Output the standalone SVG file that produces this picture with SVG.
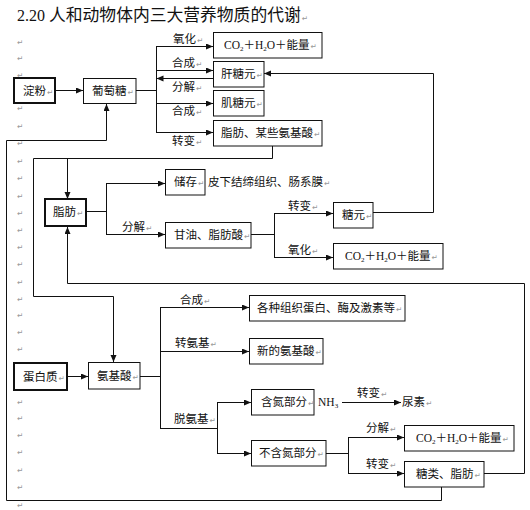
<svg xmlns="http://www.w3.org/2000/svg" width="530" height="510" viewBox="0 0 530 510">
<style>
text{font-family:"Noto Sans CJK SC","Noto Sans",sans-serif;font-size:11.5px;fill:#111}
.t{font-size:16.8px}
.d{font-family:"Liberation Serif",serif;font-size:16px}
.s{font-family:"Liberation Serif",serif}
.sub{font-family:"Liberation Serif",serif;font-size:7px}
.m{font-family:"DejaVu Sans",sans-serif;font-size:7.5px;fill:#999}
.b{fill:#fff;stroke:#111;stroke-width:1}
.k{fill:#fff;stroke:#111;stroke-width:2}
.c{fill:none;stroke:#111;stroke-width:1}
.ar{marker-end:url(#a)}
</style>
<defs>
<marker id="a" markerWidth="8" markerHeight="7" refX="7" refY="3" orient="auto" markerUnits="userSpaceOnUse"><path d="M0,0 L7,3 L0,6 z" fill="#111"/></marker>
</defs>
<rect width="530" height="510" fill="#fff"/>
<text x="17" y="21"><tspan class="d">2.20 </tspan><tspan class="t">人和动物体内三大营养物质的代谢</tspan><tspan class="m" dx="1">↵</tspan></text>
<g id="margin-marks">
<text class="m" x="17" y="45">↵</text><text class="m" x="17" y="61">↵</text><text class="m" x="17" y="78">↵</text>
<text class="m" x="17" y="111">↵</text><text class="m" x="17" y="129">↵</text><text class="m" x="17" y="146">↵</text>
<text class="m" x="17" y="164">↵</text><text class="m" x="17" y="181">↵</text><text class="m" x="17" y="199">↵</text>
<text class="m" x="17" y="216">↵</text><text class="m" x="17" y="233">↵</text><text class="m" x="17" y="250">↵</text>
<text class="m" x="17" y="267">↵</text><text class="m" x="17" y="285">↵</text><text class="m" x="17" y="302">↵</text>
<text class="m" x="17" y="318">↵</text><text class="m" x="17" y="335">↵</text><text class="m" x="17" y="352">↵</text>
<text class="m" x="17" y="405">↵</text><text class="m" x="17" y="421">↵</text><text class="m" x="17" y="438">↵</text>
<text class="m" x="17" y="455">↵</text><text class="m" x="17" y="473">↵</text><text class="m" x="17" y="490">↵</text>
<text class="m" x="17" y="508">↵</text>
</g>
<g id="connectors">
<line class="c ar" x1="55" y1="90.5" x2="83" y2="90.5"/>
<line class="c" x1="136" y1="90.5" x2="156.5" y2="90.5"/>
<line class="c" x1="156.5" y1="46" x2="156.5" y2="133"/>
<polyline class="c ar" points="156.5,46.5 213,46.5"/>
<polyline class="c ar" points="156.5,70.5 213,70.5"/>
<polyline class="c ar" points="213,78.5 156.5,78.5"/>
<polyline class="c ar" points="156.5,103.5 213,103.5"/>
<polyline class="c ar" points="156.5,132.5 213,132.5"/>
<polyline class="c ar" points="373,212.5 433.5,212.5 433.5,73.5 264,73.5"/>
<polyline class="c ar" points="272.5,146 272.5,158.5 33.5,158.5 33.5,296.5 113.5,296.5 113.5,362"/>
<polyline class="c ar" points="67.5,158.5 67.5,199"/>
<polyline class="c ar" points="441.5,487 441.5,500.5 6.5,500.5 6.5,140.5 106.5,140.5 106.5,104"/>
<polyline class="c ar" points="484,473.5 524.5,473.5 524.5,283.5 67.5,283.5 67.5,227"/>
<line class="c" x1="86" y1="211.5" x2="106.5" y2="211.5"/>
<line class="c" x1="106.5" y1="183" x2="106.5" y2="235"/>
<polyline class="c ar" points="106.5,183.5 165,183.5"/>
<polyline class="c ar" points="106.5,234.5 165,234.5"/>
<line class="c" x1="251" y1="234.5" x2="274.5" y2="234.5"/>
<line class="c" x1="274.5" y1="213" x2="274.5" y2="258"/>
<polyline class="c ar" points="274.5,213.5 333,213.5"/>
<polyline class="c ar" points="274.5,257.5 333,257.5"/>
<line class="c ar" x1="67" y1="376.5" x2="88" y2="376.5"/>
<line class="c" x1="140" y1="376.5" x2="160.5" y2="376.5"/>
<line class="c" x1="160.5" y1="307" x2="160.5" y2="429"/>
<polyline class="c ar" points="160.5,307.5 249,307.5"/>
<polyline class="c ar" points="160.5,351.5 249,351.5"/>
<line class="c" x1="160.5" y1="428.5" x2="217.5" y2="428.5"/>
<line class="c" x1="217.5" y1="402" x2="217.5" y2="454"/>
<polyline class="c ar" points="217.5,402.5 251,402.5"/>
<polyline class="c ar" points="217.5,453.5 251,453.5"/>
<line class="c ar" x1="342" y1="402.5" x2="401" y2="402.5"/>
<line class="c" x1="326" y1="453.5" x2="348.5" y2="453.5"/>
<line class="c" x1="348.5" y1="437" x2="348.5" y2="474"/>
<polyline class="c ar" points="348.5,437.5 404,437.5"/>
<polyline class="c ar" points="348.5,473.5 404,473.5"/>
<text x="173" y="43">氧化<tspan class="m" dx="1">↵</tspan></text>
<text x="172" y="67">合成<tspan class="m" dx="1">↵</tspan></text>
<text x="172" y="91">分解<tspan class="m" dx="1">↵</tspan></text>
<text x="172" y="115">合成<tspan class="m" dx="1">↵</tspan></text>
<text x="172" y="145">转变<tspan class="m" dx="1">↵</tspan></text>
<text x="122" y="231">分解<tspan class="m" dx="1">↵</tspan></text>
<text x="288" y="210">转变<tspan class="m" dx="1">↵</tspan></text>
<text x="288" y="254">氧化<tspan class="m" dx="1">↵</tspan></text>
<text x="180" y="304">合成<tspan class="m" dx="1">↵</tspan></text>
<text x="175" y="347">转氨基<tspan class="m" dx="1">↵</tspan></text>
<text x="174" y="423">脱氨基<tspan class="m" dx="1">↵</tspan></text>
<text x="357" y="397">转变<tspan class="m" dx="1">↵</tspan></text>
<text x="366" y="432">分解<tspan class="m" dx="1">↵</tspan></text>
<text x="366" y="468">转变<tspan class="m" dx="1">↵</tspan></text>
</g>
<g id="n-dianfen"><rect class="k" x="14" y="78" width="41" height="25"/><text x="23" y="95">淀粉<tspan class="m" dx="1">↵</tspan></text></g>
<g id="n-putaotang"><rect class="b" x="83.5" y="78.5" width="52.5" height="25"/><text x="92" y="95">葡萄糖<tspan class="m" dx="1">↵</tspan></text></g>
<g id="n-co2-1"><rect class="b" x="213.5" y="32.5" width="108.5" height="25.5"/><text x="224" y="49"><tspan class="s">CO</tspan><tspan class="sub" dy="2">2</tspan><tspan dy="-2">＋</tspan><tspan class="s">H</tspan><tspan class="sub" dy="2">2</tspan><tspan class="s" dy="-2">O</tspan>＋能量<tspan class="m" dx="1">↵</tspan></text></g>
<g id="n-gantangyuan"><rect class="b" x="213.5" y="61.5" width="50.5" height="25.5"/><text x="221" y="78">肝糖元<tspan class="m" dx="1">↵</tspan></text></g>
<g id="n-jitangyuan"><rect class="b" x="213.5" y="90.5" width="50.5" height="25.5"/><text x="221" y="107">肌糖元<tspan class="m" dx="1">↵</tspan></text></g>
<g id="n-zhifang-aa"><rect class="b" x="213.5" y="120.5" width="108.5" height="25.5"/><text x="221" y="137">脂肪、某些氨基酸<tspan class="m" dx="1">↵</tspan></text></g>
<g id="n-zhifang"><rect class="k" x="45" y="199" width="41" height="27"/><text x="53" y="216">脂肪<tspan class="m" dx="1">↵</tspan></text></g>
<g id="n-chucun"><rect class="b" x="165.5" y="169.5" width="39.5" height="25.5"/><text x="174" y="186">储存<tspan class="m" dx="1">↵</tspan></text></g>
<g id="t-pixia"><text x="208" y="186">皮下结缔组织、肠系膜<tspan class="m" dx="1">↵</tspan></text></g>
<g id="n-ganyou"><rect class="b" x="165.5" y="222.5" width="85.5" height="25.5"/><text x="174" y="239">甘油、脂肪酸<tspan class="m" dx="1">↵</tspan></text></g>
<g id="n-tangyuan"><rect class="b" x="333.5" y="202.5" width="39.5" height="25.5"/><text x="342" y="219">糖元<tspan class="m" dx="1">↵</tspan></text></g>
<g id="n-co2-2"><rect class="b" x="333.5" y="243.5" width="109.5" height="25.5"/><text x="345" y="260"><tspan class="s">CO</tspan><tspan class="sub" dy="2">2</tspan><tspan dy="-2">＋</tspan><tspan class="s">H</tspan><tspan class="sub" dy="2">2</tspan><tspan class="s" dy="-2">O</tspan>＋能量<tspan class="m" dx="1">↵</tspan></text></g>
<g id="n-danbaizhi"><rect class="k" x="14" y="363" width="53" height="27"/><text x="23" y="381">蛋白质<tspan class="m" dx="1">↵</tspan></text></g>
<g id="n-anjisuan"><rect class="b" x="88.5" y="362.5" width="51.5" height="26.5"/><text x="97" y="380">氨基酸<tspan class="m" dx="1">↵</tspan></text></g>
<g id="n-gezhong"><rect class="b" x="249.5" y="295.5" width="155.5" height="25.5"/><text x="257" y="312">各种组织蛋白、酶及激素等<tspan class="m" dx="1">↵</tspan></text></g>
<g id="n-xinde"><rect class="b" x="249.5" y="338.5" width="73.5" height="25.5"/><text x="257" y="355">新的氨基酸<tspan class="m" dx="1">↵</tspan></text></g>
<g id="n-handan"><rect class="b" x="251.5" y="389.5" width="62.5" height="25.5"/><text x="261" y="406">含氮部分<tspan class="m" dx="1">↵</tspan></text></g>
<g id="t-nh3"><text x="318" y="406"><tspan class="s">NH</tspan><tspan class="sub" dy="2">3</tspan></text></g>
<g id="t-niaosu"><text x="402" y="406">尿素<tspan class="m" dx="1">↵</tspan></text></g>
<g id="n-buhandan"><rect class="b" x="251.5" y="440.5" width="74.5" height="25.5"/><text x="259" y="457">不含氮部分<tspan class="m" dx="1">↵</tspan></text></g>
<g id="n-co2-3"><rect class="b" x="404.5" y="425.5" width="109.5" height="25.5"/><text x="416" y="442"><tspan class="s">CO</tspan><tspan class="sub" dy="2">2</tspan><tspan dy="-2">＋</tspan><tspan class="s">H</tspan><tspan class="sub" dy="2">2</tspan><tspan class="s" dy="-2">O</tspan>＋能量<tspan class="m" dx="1">↵</tspan></text></g>
<g id="n-tanglei"><rect class="b" x="404.5" y="461.5" width="79.5" height="25.5"/><text x="416" y="478">糖类、脂肪<tspan class="m" dx="1">↵</tspan></text></g>
</svg>
